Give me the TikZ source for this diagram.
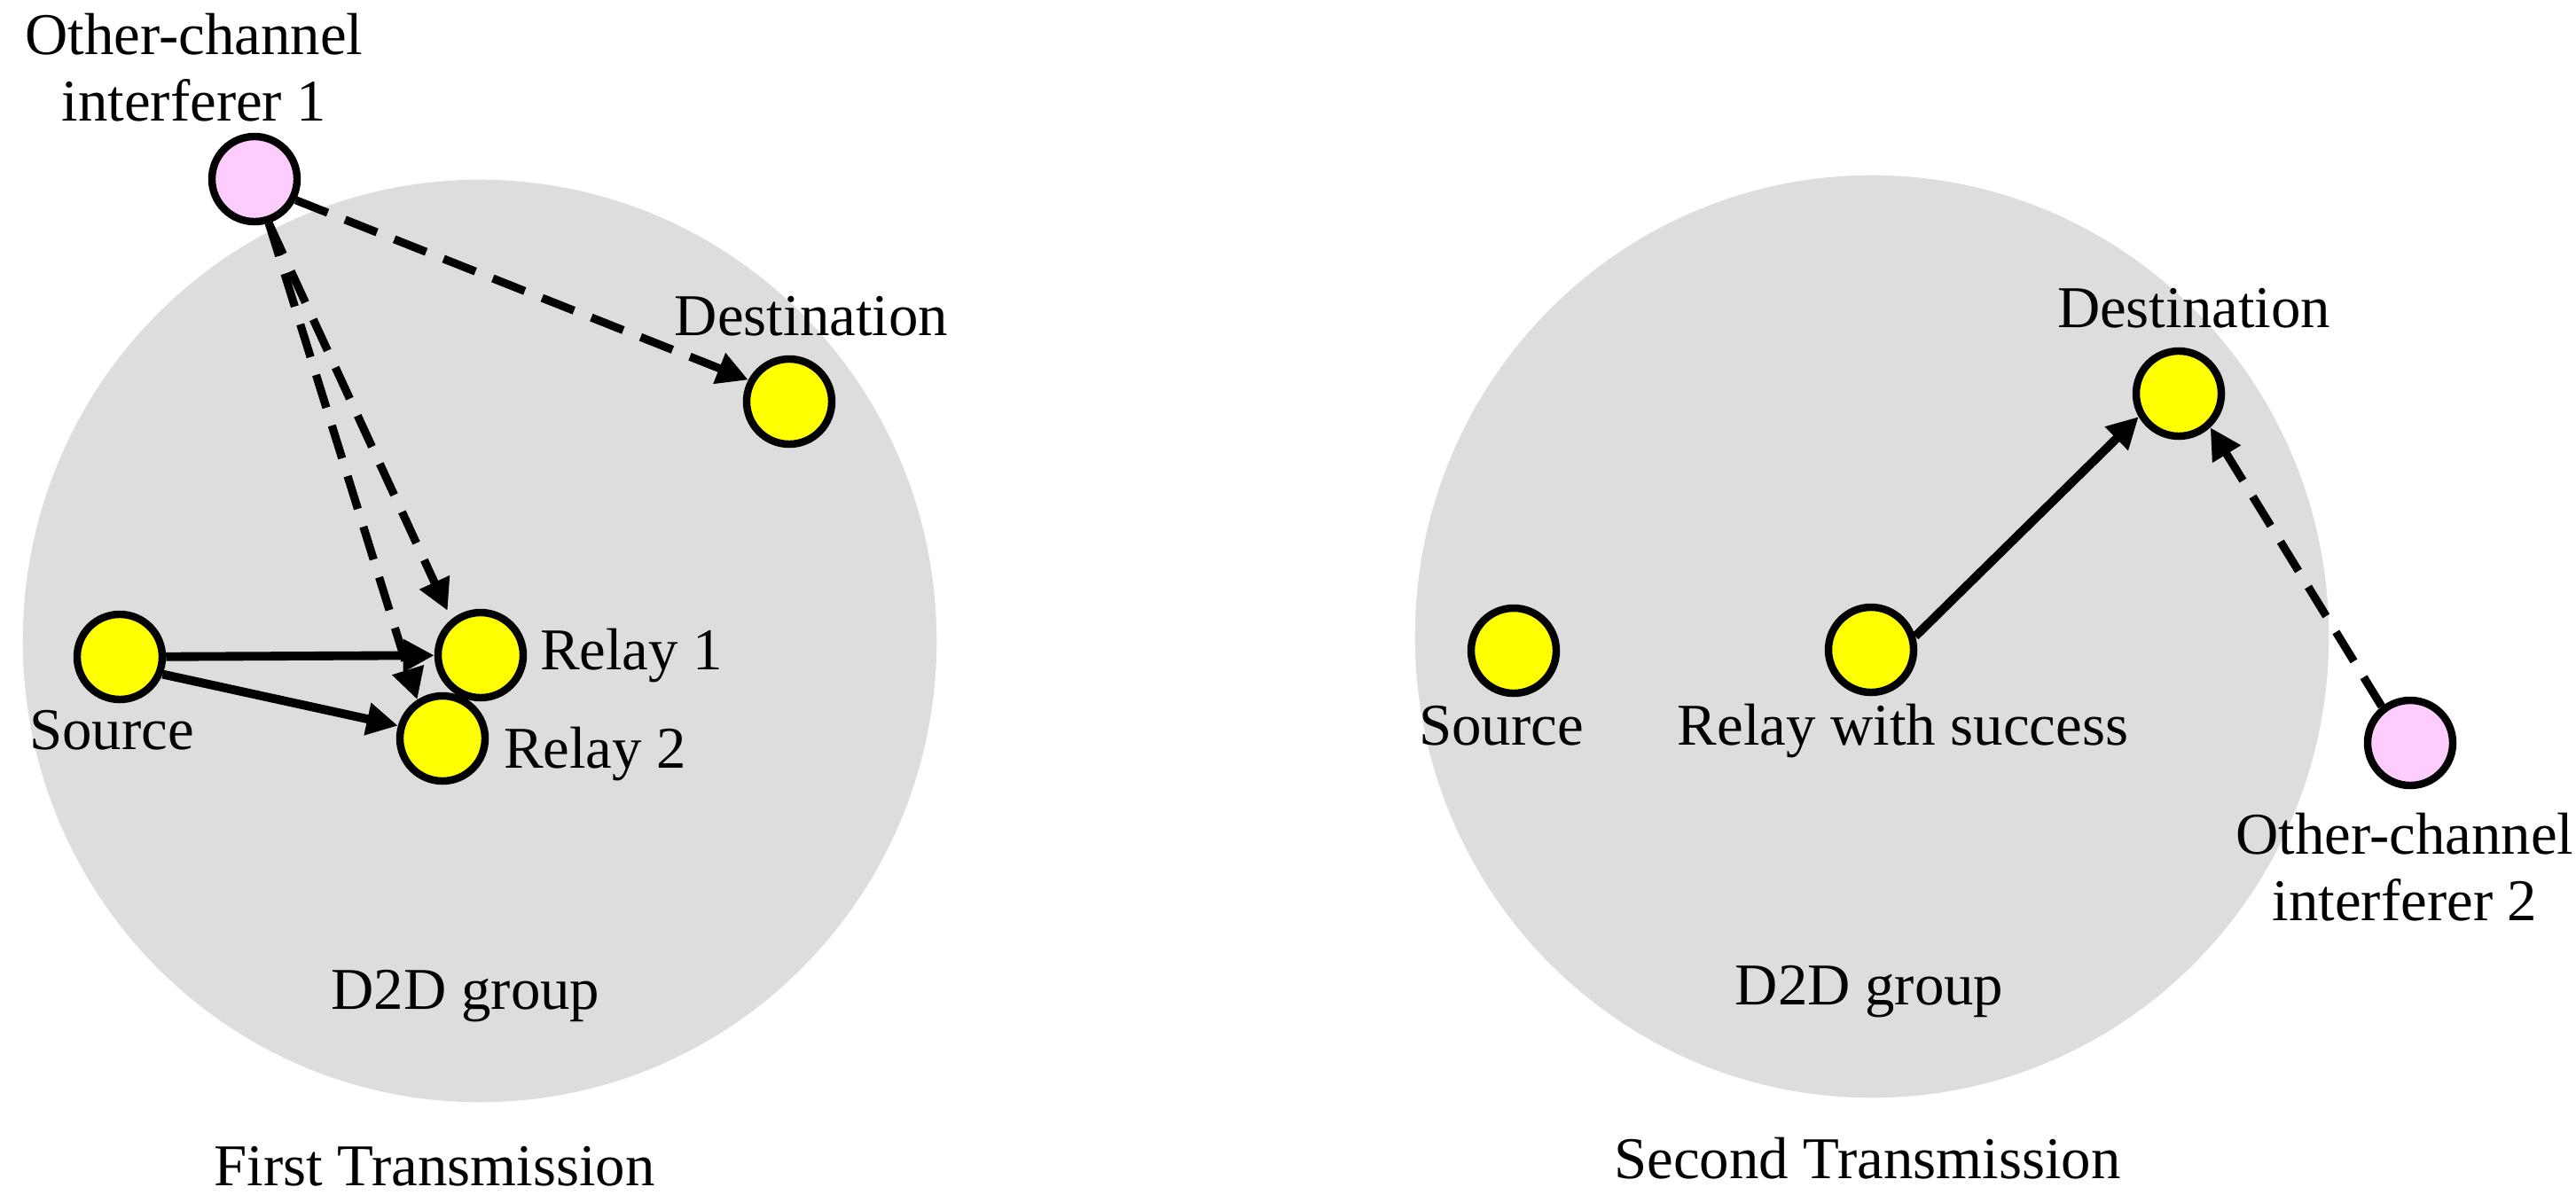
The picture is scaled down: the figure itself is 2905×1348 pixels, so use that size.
\documentclass[tikz,border=0pt]{standalone}
\usepackage{fontspec}
\setmainfont{Liberation Serif}
\usetikzlibrary{arrows.meta,shapes.geometric}
\definecolor{grp}{HTML}{DDDDDD}
\definecolor{nodey}{HTML}{FFFF00}
\definecolor{nodep}{HTML}{FFCCFF}
\begin{document}
\begin{tikzpicture}[x=0.01cm,y=-0.01cm,
  dev/.style={circle, draw=black, line width=2.4pt, minimum size=0.96cm, inner sep=0pt},
  usr/.style={dev, fill=nodey},
  intf/.style={dev, fill=nodep},
  lbl/.style={font=\fontsize{19}{21.3}\selectfont, inner sep=0pt, anchor=base},
  sig/.style={line width=2.8pt, -{Triangle[length=10pt,width=10pt]}},
  itf/.style={line width=2.6pt, dash pattern=on 11pt off 6pt, -{Triangle[length=10pt,width=10pt]}},
  group/.style={ellipse, fill=grp, minimum width=10.3cm, minimum height=10.4cm, inner sep=0pt},
]
\useasboundingbox (0,0) rectangle (2905,1348);
% groups
\node[group] (g1) at (541,723) {};
\node[group] (g2) at (2111,718) {};
% first transmission
\node[intf] (i1) at (287,202) {};
\node[usr] (d1) at (890,453) {};
\node[usr] (s1) at (135,741) {};
\node[usr] (r1) at (542,739) {};
\node[usr] (r2) at (499,833) {};
\node[lbl, align=center] (li1) at (219,136) {Other-channel\\interferer 1};
\node[lbl] (ld1) at (915,378) {Destination};
\node[lbl] (lr1) at (712,755) {Relay 1};
\node[lbl] (lr2) at (671,866) {Relay 2};
\node[lbl] (ls1) at (126,845) {Source};
\node[lbl] (lg1) at (525,1138) {D2D group};
\node[lbl] (lt1) at (490,1337) {First Transmission};
\draw[itf] (i1.-27) -- (d1.152);
\draw[itf, shorten >=3pt] (i1.-72) -- (r1.129);
\draw[itf] (i1.-72) -- (r2.123);
\draw[sig] (s1) -- (r1);
\draw[sig] (s1.-22) -- (r2.164);
% second transmission
\node[usr] (s2) at (1707,734) {};
\node[usr] (rs) at (2110,733) {};
\node[usr] (d2) at (2457,444) {};
\node[intf] (i2) at (2718,838) {};
\node[lbl] (ld2) at (2474,369) {Destination};
\node[lbl] (ls2) at (1693,840) {Source};
\node[lbl] (lrs) at (2146,840) {Relay with success};
\node[lbl, align=center] (li2) at (2712,1038) {Other-channel\\interferer 2};
\node[lbl] (lg2) at (2108,1133) {D2D group};
\node[lbl] (lt2) at (2106,1329) {Second Transmission};
\draw[sig] (rs.17) -- (d2.210);
\draw[itf] (i2.128) -- (d2.-47);
\end{tikzpicture}
\end{document}
